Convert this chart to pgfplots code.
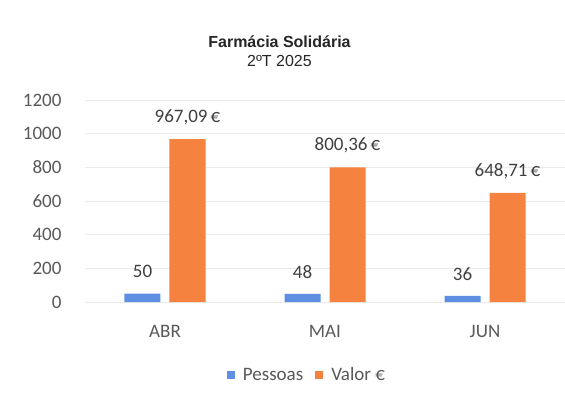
\documentclass[border=0pt]{standalone}
\usepackage{pgfplots}
\pgfplotsset{compat=1.18}
\usepackage{fontspec}
\setmainfont{Carlito}
\newfontfamily\arialf{Liberation Sans}
\definecolor{cblue}{HTML}{5E8FE3}
\definecolor{corange}{HTML}{F5823E}
\definecolor{ctext}{HTML}{404040}
\definecolor{ctick}{HTML}{595959}
\begin{document}
\begin{tikzpicture}[x=1pt,y=1pt]
\useasboundingbox (0,0) rectangle (565,400);
\fill[white] (0,0) rectangle (565,400);
\begin{axis}[
  at={(85pt,98pt)}, anchor=south west,
  scale only axis, width=480pt, height=202pt,
  xmin=-0.5, xmax=2.5, ymin=0, ymax=1200,
  ytick={0,200,...,1200},
  xtick={0,1,2}, xticklabels={ABR,MAI,JUN},
  axis line style={draw=none},
  tick style={draw=none},
  ymajorgrids, grid style={black!8, line width=0.6pt},
  /pgf/number format/assume math mode=true,
  /pgf/number format/1000 sep={},
  ticklabel style={font=\fontsize{19}{22}\selectfont, text=ctick},
  yticklabel style={anchor=east, xshift=-20pt},
  xticklabel style={anchor=center, yshift=-25pt},
  ybar=9pt, bar width=36pt,
  nodes near coords,
  point meta=explicit symbolic,
  nodes near coords style={font=\fontsize{19}{22}\selectfont, text=ctext, anchor=center, yshift=22pt},
  legend style={at={(0.4625,-0.361)}, anchor=center, draw=none, fill=none,
    legend columns=2, font=\fontsize{19}{22}\selectfont, text=ctick,
    /tikz/every odd column/.append style={column sep=6pt},
    /tikz/every even column/.append style={column sep=10pt}},
  clip=false,
]
\addplot[fill=cblue, draw=none,
  legend image code/.code={\fill[cblue] (0pt,-4pt) rectangle (8pt,4pt);}]
  coordinates {(0,50) [50] (1,48) [48] (2,36) [36]};
\addplot[fill=corange, draw=none,
  legend image code/.code={\fill[corange] (0pt,-4pt) rectangle (8pt,4pt);}]
  coordinates {(0,967.09) [967,09\,€] (1,800.36) [800,36\,€] (2,648.71) [648,71\,€]};
\legend{Pessoas, Valor €}
\end{axis}
\node[font=\arialf\bfseries\fontsize{16}{19}\selectfont, text=black!85] at (279.5,358) {Farmácia Solidária};
\node[font=\arialf\fontsize{16}{19}\selectfont, text=black!85] at (279.5,339) {2ºT 2025};
\end{tikzpicture}
\end{document}
